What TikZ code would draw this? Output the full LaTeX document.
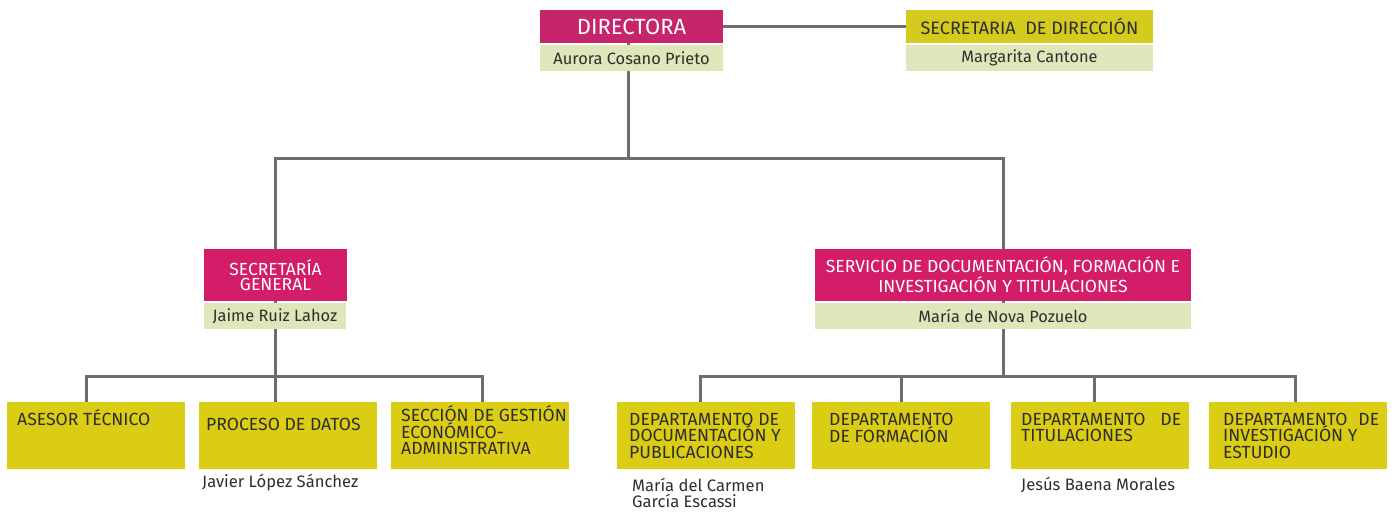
\documentclass[tikz,border=0pt]{standalone}
\usepackage{fontspec}
\setmainfont{Fira Sans}
\usetikzlibrary{positioning,backgrounds}

\definecolor{dirpink}{HTML}{C6246B}
\definecolor{secpink}{HTML}{D41D68}
\definecolor{unitolive}{HTML}{DBCC14}
\definecolor{headolive}{HTML}{D3CB1D}
\definecolor{palegreen}{HTML}{DFE7BA}
\definecolor{wiregray}{HTML}{6B6E6E}
\definecolor{ink}{HTML}{2E2E2E}

\tikzset{
  box/.style={anchor=north west, inner sep=0pt, outer sep=0pt},
  pinkbox/.style={box, fill=secpink, text=white, align=center,
    minimum height=52pt, font=\fontsize{17.5}{15.7}\selectfont},
  namebox/.style={box, fill=palegreen, text=ink, minimum height=26pt,
    font=\fontsize{16.4}{16}\selectfont},
  unitbox/.style={box, fill=unitolive, minimum width=178pt, minimum height=67pt},
  unittext/.style={anchor=base west, inner sep=0pt, align=left, text=ink,
    font=\fontsize{17.6}{16.5}\selectfont},
  persontext/.style={anchor=base west, inner sep=0pt, align=left, text=ink,
    font=\fontsize{16.6}{16}\selectfont},
  wire/.style={draw=wiregray, line width=3pt},
}

\begin{document}
\begin{tikzpicture}[x=1pt,y=-1pt]
  \useasboundingbox (0,0) rectangle (1396,514);

  % direccion
  \node[pinkbox, fill=dirpink, minimum width=183pt, minimum height=33pt,
    font=\fontsize{22}{22}\selectfont] (dir) at (540,10) {DIRECTORA};
  \node[namebox, minimum width=183pt] (dirname) at (540,45) {Aurora Cosano Prieto};
  \node[box, fill=headolive, text=ink, minimum width=247pt, minimum height=33pt,
    font=\fontsize{18}{18}\selectfont] (secdir) at (906,10) {SECRETARIA\ \ DE DIRECCIÓN};
  \node[namebox, minimum width=247pt] (secdirname) at (906,45) {Margarita Cantone};

  % segundo nivel
  \node[pinkbox, minimum width=143pt] (secgen) at (204,249) {SECRETARÍA\\GENERAL};
  \node[namebox, minimum width=142pt] (secgenname) at (204,303) {Jaime Ruiz Lahoz};
  \node[pinkbox, minimum width=376pt] (serv) at (815,249)
    {SERVICIO DE DOCUMENTACIÓN, FORMACIÓN E\\INVESTIGACIÓN Y TITULACIONES};
  \node[namebox, minimum width=376pt] (servname) at (815,303) {María de Nova Pozuelo};

  % unidades
  \node[unitbox] (asesor) at (7,402) {};
  \node[unitbox] (proceso) at (199,402) {};
  \node[unitbox] (seccion) at (391,402) {};
  \node[unitbox] (dep1) at (617,402) {};
  \node[unitbox] (dep2) at (812,402) {};
  \node[unitbox] (dep3) at (1011,402) {};
  \node[unitbox] (dep4) at (1209,402) {};

  % (base = ultima linea)
  \node[unittext] (asesortxt) at ([xshift=10pt,yshift=-23pt]asesor.north west) {ASESOR TÉCNICO};
  \node[unittext] (procesotxt) at ([xshift=7pt,yshift=-28.7pt]proceso.north west) {PROCESO DE DATOS};
  \node[unittext] (secciontxt) at ([xshift=10pt,yshift=-52.7pt]seccion.north west)
    {SECCIÓN DE GESTIÓN\\ECONÓMICO-\\ADMINISTRATIVA};
  \node[unittext] (dep1txt) at ([xshift=12pt,yshift=-56pt]dep1.north west)
    {DEPARTAMENTO DE\\DOCUMENTACIÓN Y\\PUBLICACIONES};
  \node[unittext] (dep2txt) at ([xshift=17pt,yshift=-40pt]dep2.north west)
    {DEPARTAMENTO\\DE FORMACIÓN};
  \node[unittext] (dep3txt) at ([xshift=10pt,yshift=-39.5pt]dep3.north west)
    {\makebox[160pt][s]{DEPARTAMENTO\hfill DE}\\TITULACIONES};
  \node[unittext] (dep4txt) at ([xshift=14pt,yshift=-56pt]dep4.north west)
    {\makebox[156pt][s]{DEPARTAMENTO\hfill DE}\\INVESTIGACIÓN Y\\ESTUDIO};

  \node[persontext] (javier) at ([xshift=3pt,yshift=-18pt]proceso.south west) {Javier López Sánchez};
  \node[persontext] (maria) at ([xshift=15pt,yshift=-38.7pt]dep1.south west)
    {María del Carmen\\García Escassi};
  \node[persontext] (jesus) at ([xshift=10pt,yshift=-21.7pt]dep3.south west) {Jesús Baena Morales};

  % conexiones
  \coordinate (topfork) at (628,158);
  \coordinate (leftfork) at (275.5,376);
  \coordinate (rightfork) at (1001,376);
  \begin{scope}[on background layer]
    \draw[wire] (dir.east) -- (secdir.west);
    \draw[wire] (dir.center -| topfork) -- (topfork);
    \draw[wire] (secgen.center) |- (topfork) -| (serv.center);
    \draw[wire] (secgen.center) -- (proceso.north -| secgen.center);
    \draw[wire] ([xshift=-10pt]asesor.north) |- (leftfork) -| ([xshift=2pt]seccion.north);
    \draw[wire] (serv.center) |- (rightfork);
    \draw[wire] ([xshift=-6pt]dep1.north) |- (rightfork) -| ([xshift=-3pt]dep4.north);
    \draw[wire] (dep2.north) -- (dep2.north |- rightfork);
    \draw[wire] ([xshift=-6pt]dep3.north) |- (rightfork);
  \end{scope}
\end{tikzpicture}
\end{document}
